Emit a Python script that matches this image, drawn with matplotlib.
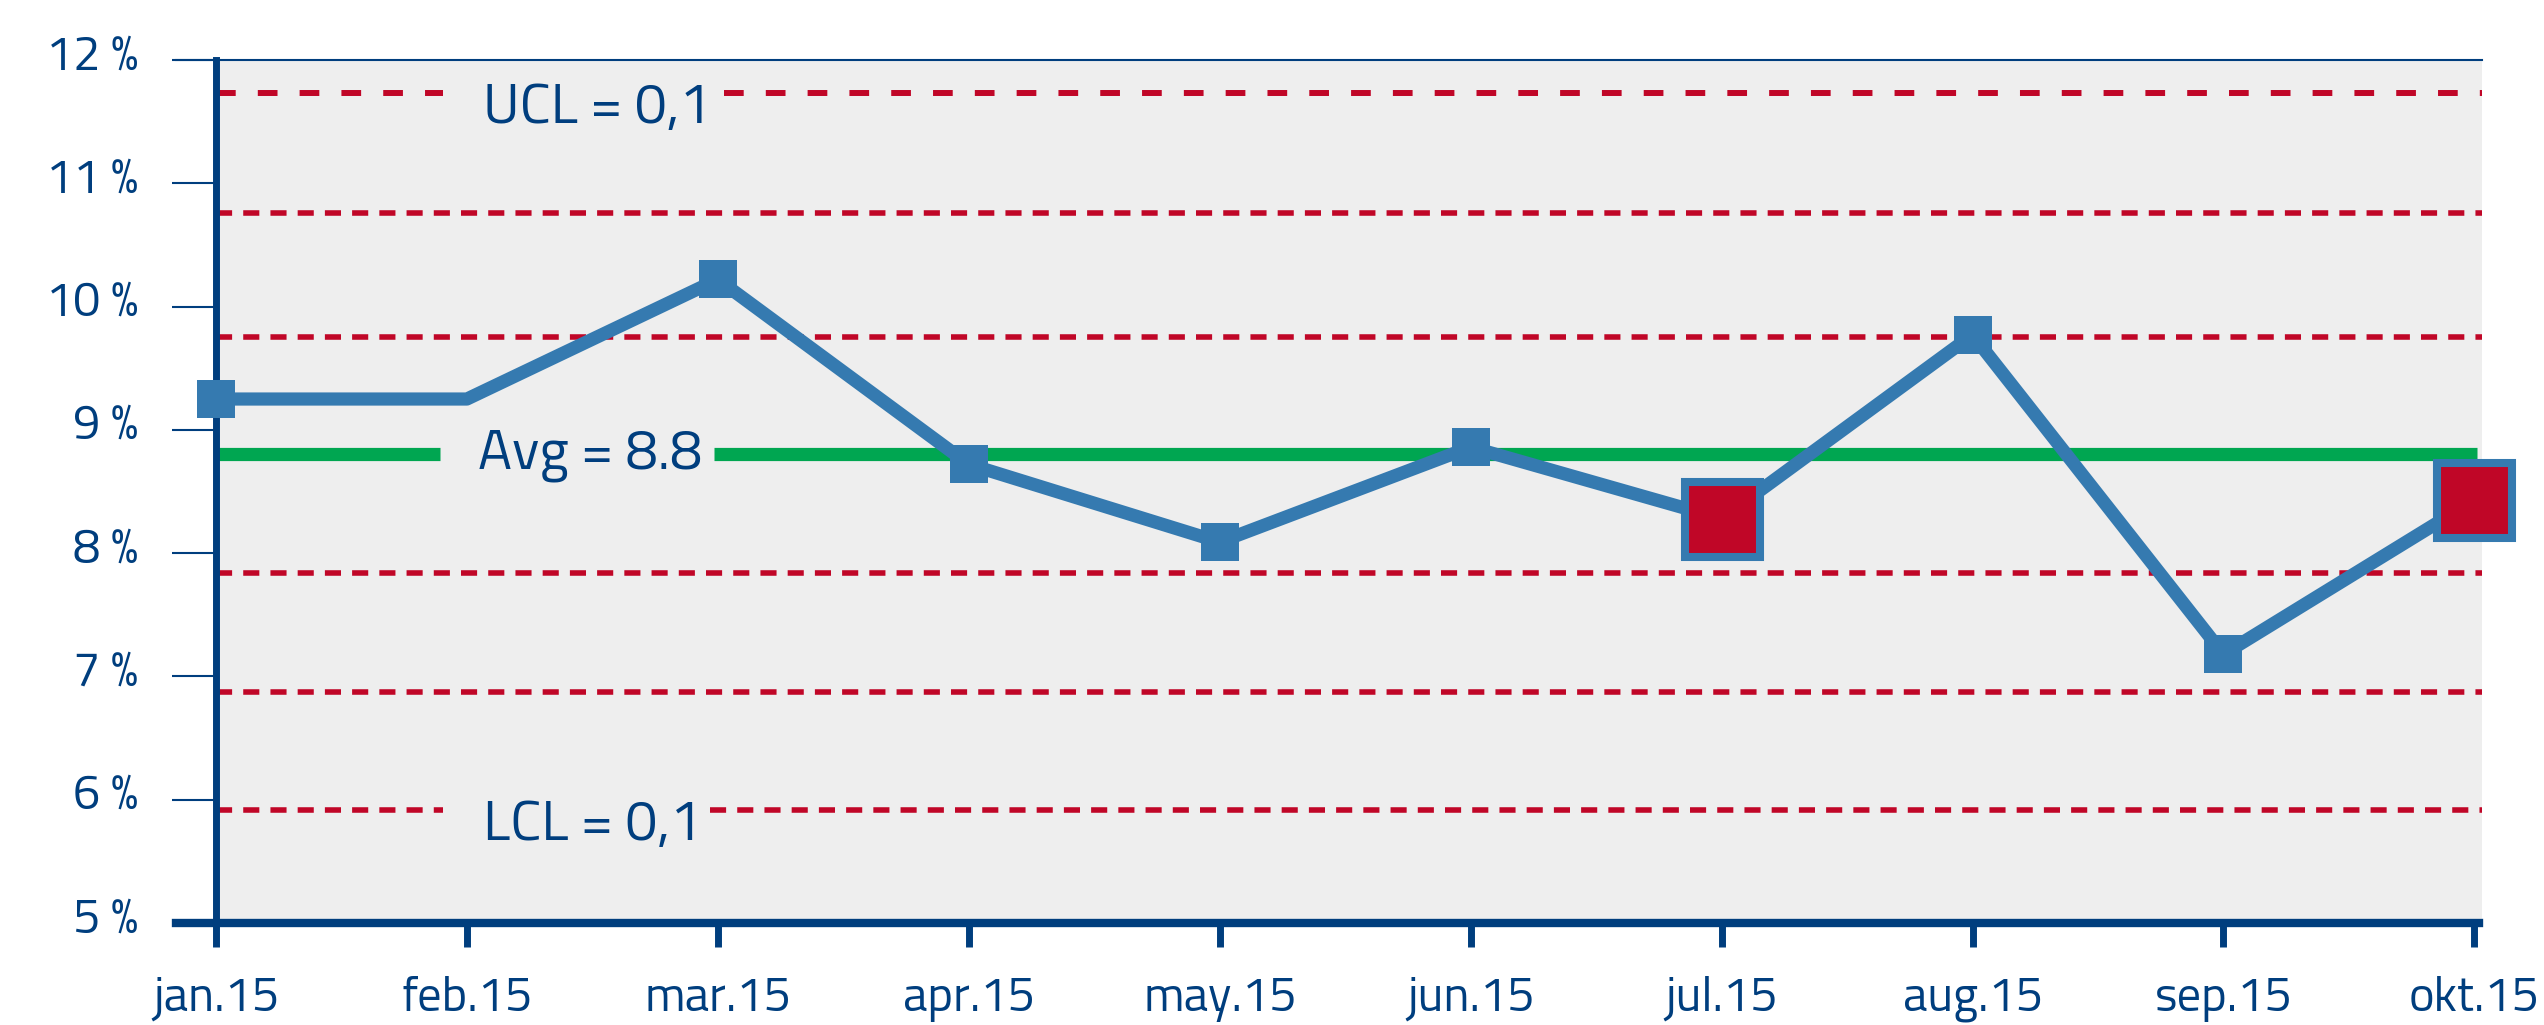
import numpy as np
import matplotlib
matplotlib.use("Agg")
import matplotlib.pyplot as plt
from matplotlib.transforms import ScaledTranslation

plt.rcParams["font.family"] = ["Titillium Web", "Liberation Sans", "DejaVu Sans"]

# data
months = ["jan.15", "feb.15", "mar.15", "apr.15", "may.15",
          "jun.15", "jul.15", "aug.15", "sep.15", "okt.15"]
rate = [9.25, 9.25, 10.22, 8.72, 8.09, 8.86, 8.28, 9.77, 7.18, 8.43]
flagged = ["jul.15", "okt.15"]
no_marker = ["feb.15"]
avg = 8.8
upper_lines = [9.75, 10.76]
ucl = 11.73
lower_lines = [7.84, 6.87]
lcl = 5.92
y_ticks = [5, 6, 7, 8, 9, 10, 11, 12]
y_labels = ["%d %%" % v for v in y_ticks]

navy = "#003E7E"
blue = "#357AB0"
red = "#C00627"
green = "#00A651"

fig = plt.figure(figsize=(25.44, 10.25), dpi=100)
ax = fig.add_axes([0.0849, 0.0995, 0.8907, 0.842])
ax.set_facecolor("#EEEEEE")

x = np.arange(len(months))
rate = np.array(rate)

# control limit lines
short = dict(color=red, lw=4, dashes=(2.9, 2.0), zorder=1)
for v in upper_lines + lower_lines:
    ax.axhline(v, **short)

yt = ax.get_yaxis_transform()
gap_l, gap_r = 0.100, 0.220
long_dash = dict(color=red, lw=4.3, dashes=(3.3, 3.7), zorder=1, transform=yt)
ax.plot([0, gap_l], [ucl, ucl], **long_dash)
ax.plot([gap_r + 0.004, 1], [ucl, ucl], **long_dash)
short_t = dict(short, transform=yt)
ax.plot([0, gap_l], [lcl, lcl], **short_t)
ax.plot([gap_r - 0.002, 1], [lcl, lcl], **short_t)
solid = dict(color=green, lw=9.5, solid_capstyle="butt", zorder=2, transform=yt)
ax.plot([0, gap_l - 0.001], [avg, avg], **solid)
ax.plot([gap_r, 0.998], [avg, avg], **solid)

txt = dict(color=navy, fontsize=41, va="baseline", ha="left", transform=yt)
ax.text(0.118, 11.49, "UCL = 0,1", **txt)
ax.text(0.118, 5.67, "LCL = 0,1", **txt)
ax.text(0.1155, 8.69, "Avg = 8.8", **txt)

# data line and markers
ax.plot(x, rate, color=blue, lw=9.5, zorder=3, clip_on=False)
normal = [i for i, m in enumerate(months) if m not in flagged + no_marker]
ax.plot(x[normal], rate[normal], ls="none", marker="s", ms=28,
        color=blue, mew=0, zorder=4, clip_on=False)
flag = [months.index(m) for m in flagged]
ax.plot(x[flag], rate[flag], ls="none", marker="s", ms=54,
        mfc=red, mec=blue, mew=5.8, zorder=5, clip_on=False)

ax.set_xlim(0, 9.03)
ax.set_ylim(5, 12)
ax.set_xticks(x)
ax.set_xticklabels(months)
ax.set_yticks(y_ticks)
ax.set_yticklabels(y_labels)

ax.spines["right"].set_visible(False)
ax.spines["top"].set_color(navy)
ax.spines["top"].set_linewidth(1.5)
ax.spines["top"].set_bounds(-0.16, 9.03)
ax.spines["bottom"].set_color(navy)
ax.spines["bottom"].set_linewidth(6)
ax.spines["bottom"].set_bounds(-0.16, 9.02)
ax.spines["left"].set_color(navy)
ax.spines["left"].set_linewidth(5)

ax.tick_params(axis="y", length=32, width=1.5, color=navy, pad=24,
               labelsize=35, labelcolor=navy)
ax.tick_params(axis="x", length=17, width=5, color=navy, pad=21,
               labelsize=35, labelcolor=navy)

shift = ScaledTranslation(0, 6 / 72, fig.dpi_scale_trans)
for lab in ax.get_yticklabels():
    lab.set_transform(lab.get_transform() + shift)

fig.savefig("out.png", dpi=100)
